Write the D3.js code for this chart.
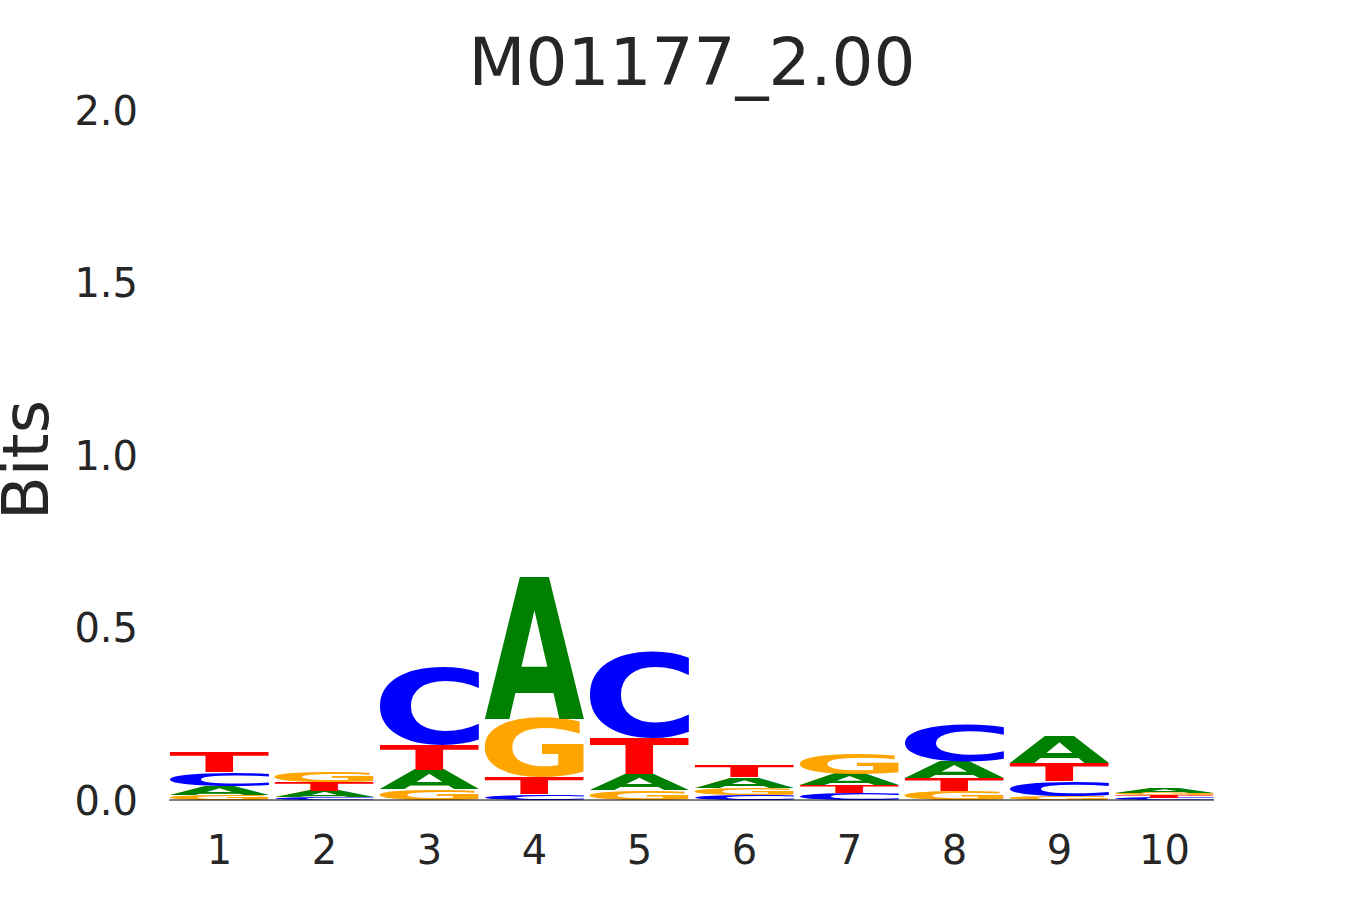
<!DOCTYPE html>
<html><head><meta charset="utf-8">
<script src="https://cdn.jsdelivr.net/npm/d3@7"></script>
<style>body{margin:0;background:#fff}</style>
</head><body>
<script>
const title = "M01177_2.00";
const positions = [1,2,3,4,5,6,7,8,9,10];
const bitsA = [0.026,0.017,0.056,0.410,0.045,0.031,0.032,0.048,0.079,0.013];
const bitsC = [0.040,0.008,0.229,0.017,0.253,0.015,0.019,0.111,0.043,0.006];
const bitsG = [0.015,0.030,0.031,0.171,0.029,0.019,0.060,0.026,0.012,0.008];
const bitsT = [0.058,0.028,0.072,0.048,0.107,0.035,0.024,0.037,0.051,0.007];
const yTicks = [0,0.5,1.0,1.5,2.0];
const colors = {A:"#008000", C:"#0000ff", G:"#ffa500", T:"#ff0000"};

const W=1350,H=900;
const svg=d3.select("body").append("svg").attr("width",W).attr("height",H);
const x=d3.scaleLinear().domain([1,10]).range([219,1164]);
const step=105, lw=0.95*step;
const y=d3.scaleLinear().domain([0,2]).range([800,110]);
const font="DejaVu Sans";

const cv=document.createElement("canvas").getContext("2d");
const FS=200;
cv.font=`bold ${FS}px '${font}'`;
const metrics={};
for(const L of "ACGT"){const m=cv.measureText(L);metrics[L]={l:m.actualBoundingBoxLeft,r:m.actualBoundingBoxRight,a:m.actualBoundingBoxAscent,d:m.actualBoundingBoxDescent};}

const g=svg.append("g");
positions.forEach((p,i)=>{
  const stack=[["A",bitsA[i]],["C",bitsC[i]],["G",bitsG[i]],["T",bitsT[i]]].sort((a,b)=>a[1]-b[1]);
  let cum=0;
  stack.forEach(([L,v])=>{
    const y0=y(cum+v), y1=y(cum); cum+=v;
    const h=y1-y0; if(h<=0) return;
    const m=metrics[L];
    const sx=lw/(m.l+m.r), sy=h/(m.a+m.d);
    g.append("text").text(L)
      .attr("font-family",font).attr("font-weight","bold").attr("font-size",FS)
      .attr("fill",colors[L])
      .attr("transform",`translate(${x(p)-lw/2},${y0}) scale(${sx},${sy}) translate(${m.l},${m.a})`);
  });
});
svg.append("line").attr("x1",x(1)-lw/2).attr("x2",x(10)+lw/2).attr("y1",y(0)).attr("y2",y(0)).attr("stroke","#000").attr("stroke-width",1.2);

const ya=d3.axisLeft(y).tickValues(yTicks).tickFormat(d3.format(".1f")).tickSize(0).tickPadding(0);
const yg=svg.append("g").attr("transform","translate(138,0)").call(ya);
yg.select(".domain").remove();
yg.selectAll("text").attr("font-family",font).attr("font-size",40).attr("fill","#262626").attr("dy","0.35em");
const xa=d3.axisBottom(x).tickValues(positions).tickFormat(d3.format("d")).tickSize(0).tickPadding(0);
const xg=svg.append("g").attr("transform","translate(0,850)").call(xa);
xg.select(".domain").remove();
xg.selectAll("text").attr("font-family",font).attr("font-size",40).attr("fill","#262626").attr("dy","0.35em");

svg.append("text").text("Bits").attr("font-family",font).attr("font-size",64).attr("fill","#262626")
  .attr("text-anchor","middle").attr("transform","translate(48,460) rotate(-90)");
svg.append("text").text(title).attr("font-family",font).attr("font-size",66).attr("fill","#262626")
  .attr("text-anchor","middle").attr("x",692).attr("y",85);
</script>
</body></html>
